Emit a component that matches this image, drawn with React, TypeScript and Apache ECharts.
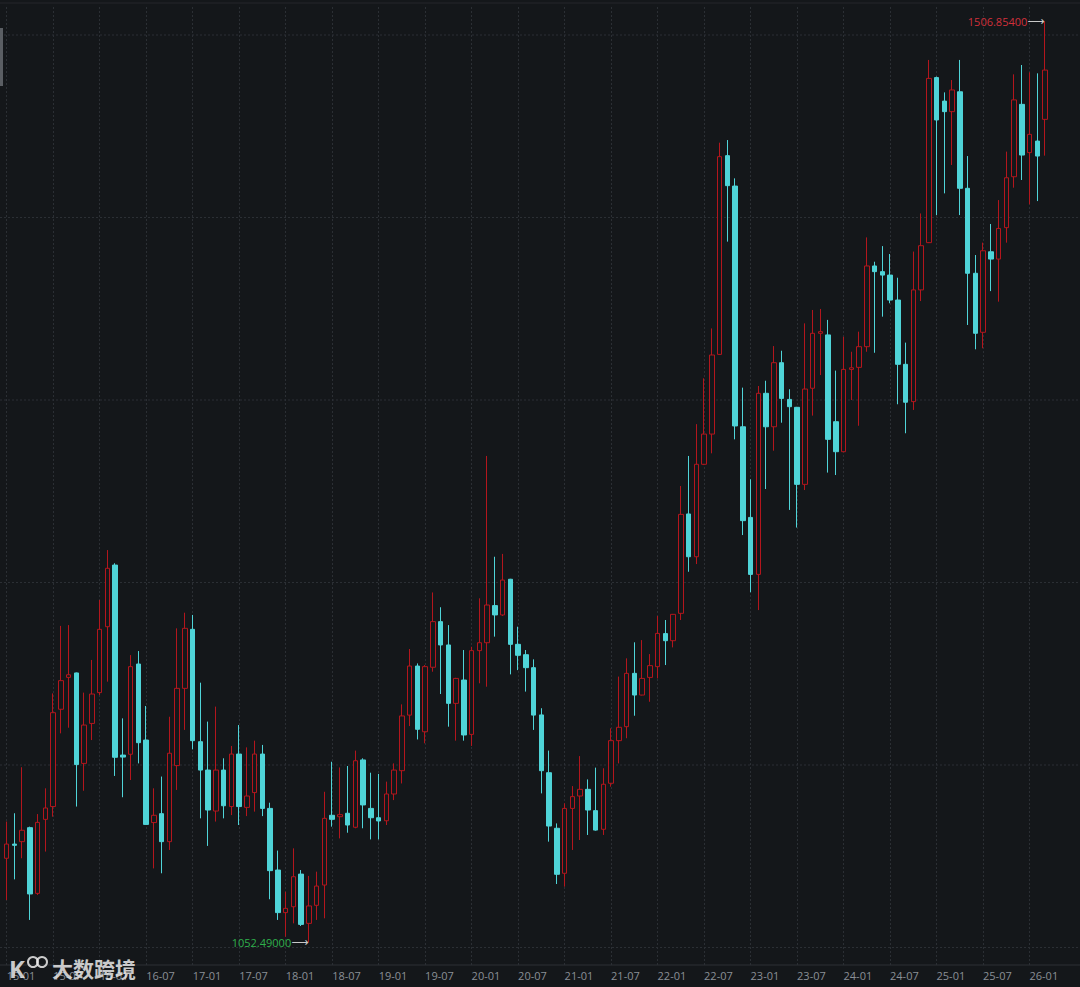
import React, { useEffect, useRef } from 'react';
import * as echarts from 'echarts';

const categories = [
  '15-01','15-02','15-03','15-04','15-05','15-06','15-07','15-08','15-09','15-10','15-11','15-12',
  '16-01','16-02','16-03','16-04','16-05','16-06','16-07','16-08','16-09','16-10','16-11','16-12',
  '17-01','17-02','17-03','17-04','17-05','17-06','17-07','17-08','17-09','17-10','17-11','17-12',
  '18-01','18-02','18-03','18-04','18-05','18-06','18-07','18-08','18-09','18-10','18-11','18-12',
  '19-01','19-02','19-03','19-04','19-05','19-06','19-07','19-08','19-09','19-10','19-11','19-12',
  '20-01','20-02','20-03','20-04','20-05','20-06','20-07','20-08','20-09','20-10','20-11','20-12',
  '21-01','21-02','21-03','21-04','21-05','21-06','21-07','21-08','21-09','21-10','21-11','21-12',
  '22-01','22-02','22-03','22-04','22-05','22-06','22-07','22-08','22-09','22-10','22-11','22-12',
  '23-01','23-02','23-03','23-04','23-05','23-06','23-07','23-08','23-09','23-10','23-11','23-12',
  '24-01','24-02','24-03','24-04','24-05','24-06','24-07','24-08','24-09','24-10','24-11','24-12',
  '25-01','25-02','25-03','25-04','25-05','25-06','25-07','25-08','25-09','25-10','25-11','25-12',
  '26-01','26-02','26-03'
];

const opens = [
  1094.0,1101.0,1102.2,1109.1,1076.7,1113.2,1119.5,1167.5,1183.2,1185.4,1140.8,1160.5,
  1175.7,1208.2,1238.6,1144.9,1145.3,1189.8,1152.3,1111.6,1116.0,1102.2,1139.7,1177.8,
  1206.9,1151.5,1137.5,1117.3,1137.5,1119.5,1145.4,1119.1,1126.4,1145.4,1118.6,1088.2,
  1067.2,1070.1,1086.2,1061.9,1070.8,1080.8,1115.2,1114.5,1116.2,1109.3,1142.5,1118.6,
  1114.0,1112.5,1125.7,1137.2,1164.6,1188.8,1156.4,1188.2,1210.7,1199.2,1170.4,1181.9,
  1155.1,1196.4,1200.3,1218.6,1214.0,1231.6,1199.5,1194.4,1188.0,1164.7,1136.2,1108.8,
  1086.6,1118.6,1124.7,1128.0,1117.5,1108.3,1131.0,1152.0,1158.9,1185.2,1174.5,1183.2,
  1188.5,1204.8,1201.3,1214.8,1263.8,1242.7,1288.3,1303.2,1342.5,1440.5,1425.5,1306.8,
  1262.1,1234.0,1323.3,1306.8,1338.4,1320.3,1316.4,1278.4,1325.8,1352.9,1352.1,1309.3,
  1294.5,1335.1,1336.1,1346.3,1386.1,1383.3,1381.6,1369.3,1337.6,1319.2,1374.3,1397.6,
  1479.0,1467.4,1462.2,1472.0,1424.4,1382.5,1353.4,1393.1,1389.5,1405.0,1430.1,1465.8,
  1442.0,1447.7,1458.4
];

const closes = [
  1101.0,1100.4,1107.8,1076.4,1111.7,1118.8,1165.8,1181.6,1184.5,1140.2,1159.7,1175.0,
  1206.9,1237.0,1143.8,1143.9,1188.5,1151.0,1110.7,1115.2,1102.2,1145.8,1177.8,1207.4,
  1152.0,1137.5,1117.8,1137.5,1119.9,1145.4,1119.5,1124.7,1145.4,1118.6,1087.9,1067.2,
  1069.3,1084.9,1061.4,1070.5,1080.3,1113.7,1113.2,1115.5,1110.4,1142.1,1120.3,1114.0,
  1112.4,1125.7,1137.5,1164.2,1188.8,1157.6,1188.5,1210.7,1199.2,1170.4,1182.7,1154.8,
  1196.4,1200.3,1218.9,1214.0,1231.2,1199.5,1194.1,1188.0,1164.6,1137.2,1109.9,1086.1,
  1118.6,1124.4,1128.0,1117.8,1107.9,1130.5,1152.0,1158.6,1185.2,1174.5,1182.7,1189.0,
  1204.9,1201.3,1214.3,1263.6,1242.7,1288.3,1303.2,1342.2,1440.0,1425.7,1307.2,1260.5,
  1234.0,1323.3,1306.8,1338.4,1320.8,1316.7,1278.4,1325.4,1352.9,1353.7,1300.6,1294.5,
  1335.1,1335.9,1346.3,1386.1,1383.3,1381.6,1369.3,1337.6,1318.9,1374.3,1396.1,1478.6,
  1458.1,1462.2,1472.9,1424.4,1382.5,1352.9,1393.6,1389.5,1404.6,1429.6,1468.0,1440.8,
  1451.0,1440.3,1482.7
];

const lows = [
  1073.4,1083.6,1094.0,1063.6,1075.9,1097.3,1114.5,1155.6,1158.4,1119.5,1127.3,1152.3,
  1174.5,1181.1,1134.6,1124.1,1132.6,1140.8,1110.5,1089.0,1086.6,1098.1,1127.7,1157.3,
  1147.7,1113.7,1100.1,1112.1,1113.7,1115.3,1110.4,1114.8,1117.0,1114.8,1073.8,1063.6,
  1055.3,1061.9,1060.6,1052.49,1063.6,1064.4,1109.6,1103.8,1106.6,1108.8,1108.8,1103.3,
  1103.3,1110.4,1122.7,1130.9,1159.2,1152.6,1150.7,1186.0,1175.0,1158.9,1152.0,1152.0,
  1149.4,1180.3,1178.6,1203.3,1213.5,1184.7,1186.8,1176.2,1157.3,1126.0,1102.2,1081.3,
  1080.0,1098.1,1103.0,1105.5,1107.6,1105.5,1129.3,1140.8,1153.2,1164.3,1174.3,1171.2,
  1182.7,1189.3,1198.0,1211.5,1235.3,1239.1,1287.9,1293.7,1342.3,1398.1,1300.6,1253.4,
  1225.2,1216.4,1276.1,1295.0,1308.8,1265.8,1257.1,1275.6,1312.3,1332.3,1284.2,1283.0,
  1294.3,1320.0,1307.3,1343.8,1343.3,1361.1,1367.7,1317.9,1303.6,1315.1,1368.8,1397.4,
  1411.2,1421.9,1435.9,1411.2,1357.0,1345.0,1345.5,1373.7,1368.5,1397.6,1424.7,1428.5,
  1416.5,1418.1,1440.5
];

const highs = [
  1112.1,1116.2,1138.9,1109.6,1115.8,1128.5,1175.3,1208.6,1209.0,1185.6,1175.7,1191.8,
  1221.4,1246.0,1239.5,1163.0,1194.2,1196.2,1169.1,1128.5,1134.3,1163.8,1207.4,1215.1,
  1214.0,1180.6,1161.4,1168.8,1143.3,1149.4,1159.7,1148.7,1152.0,1149.9,1121.4,1097.8,
  1077.5,1098.9,1088.2,1085.3,1087.4,1126.8,1141.6,1138.8,1139.5,1147.1,1143.3,1136.2,
  1135.6,1131.8,1140.8,1169.9,1197.2,1190.1,1189.3,1225.1,1217.8,1209.0,1183.0,1196.7,
  1198.3,1222.2,1292.4,1242.7,1244.1,1231.8,1208.2,1196.7,1192.1,1168.0,1147.1,1111.2,
  1121.1,1129.6,1144.4,1132.9,1138.7,1138.4,1158.1,1183.6,1192.6,1200.5,1201.6,1194.7,
  1213.5,1211.5,1214.5,1277.6,1292.4,1308.1,1330.7,1355.3,1446.9,1448.2,1429.3,1326.1,
  1280.9,1326.9,1329.5,1346.6,1344.3,1325.3,1316.6,1357.8,1364.4,1364.9,1359.5,1334.5,
  1351.2,1343.8,1353.7,1400.2,1388.2,1395.9,1392.0,1380.3,1348.3,1393.2,1412.0,1487.7,
  1479.5,1471.7,1477.8,1487.7,1440.3,1391.5,1397.6,1406.8,1418.6,1442.5,1480.6,1485.2,
  1481.6,1481.1,1506.854
];

const gridLevels = [1050, 1140, 1230, 1320, 1410, 1500];
const maxMark = { category: '26-03', value: 1506.854, text: '1506.85400' };
const minMark = { category: '18-04', value: 1052.49, text: '1052.49000' };

const BG = '#14171a';
const GRID = '#2b2f34';
const UP = '#b3161d';
const DOWN = '#4fd4d8';

export default function App() {
  const ref = useRef<HTMLDivElement>(null);

  useEffect(() => {
    if (!ref.current) return;
    const chart = echarts.init(ref.current, null, { renderer: 'svg' });
    const data = categories.map((_, i) => [opens[i], closes[i], lows[i], highs[i]]);

    chart.setOption({
      animation: false,
      backgroundColor: BG,
      grid: { left: 6.7, right: 35, top: 7, bottom: 22 },
      xAxis: {
        type: 'category',
        data: categories,
        boundaryGap: false,
        axisLine: { show: false },
        axisTick: { show: false },
        axisLabel: {
          interval: 5,
          align: 'left',
          color: '#8a8f96',
          fontSize: 11,
          margin: 5,
          fontFamily: 'Open Sans, Noto Sans, sans-serif',
        },
        splitLine: { show: true, interval: 5, lineStyle: { color: GRID, type: [2, 2], width: 1 } },
      },
      yAxis: {
        type: 'value',
        min: 1041.37,
        max: 1513.81,
        axisLine: { show: false },
        axisTick: { show: false },
        axisLabel: { show: false },
        splitLine: { show: false },
      },
      series: [
        {
          type: 'candlestick',
          data,
          barWidth: 5,
          clip: false,
          itemStyle: {
            color: BG,
            color0: DOWN,
            borderColor: UP,
            borderColor0: DOWN,
            borderWidth: 1,
          },
          markPoint: {
            silent: true,
            symbol: 'circle',
            symbolSize: 1,
            itemStyle: { color: 'rgba(0,0,0,0)' },
            data: [
              {
                coord: [maxMark.category, maxMark.value],
                label: {
                  show: true,
                  position: 'left',
                  distance: 0,
                  formatter: '{t|' + maxMark.text + '}{a|⟶}',
                  rich: {
                    t: { color: '#d0303a', fontSize: 11, fontFamily: 'Open Sans, sans-serif' },
                    a: { color: '#c8c8c8', fontSize: 12, fontFamily: 'DejaVu Sans' },
                  },
                },
              },
              {
                coord: [minMark.category, minMark.value],
                label: {
                  show: true,
                  position: 'left',
                  distance: 0,
                  formatter: '{t|' + minMark.text + '}{a|⟶}',
                  rich: {
                    t: { color: '#2fb04c', fontSize: 11, fontFamily: 'Open Sans, sans-serif' },
                    a: { color: '#c8c8c8', fontSize: 12, fontFamily: 'DejaVu Sans' },
                  },
                },
              },
            ],
          },
        },
      ],
    });

    const gridYs = gridLevels.map((v) => chart.convertToPixel({ yAxisIndex: 0 }, v) as number);
    chart.setOption({
      graphic: [
        ...gridYs.map((y) => ({
          type: 'line',
          silent: true,
          z: 0,
          shape: { x1: 0, y1: y, x2: 1080, y2: y },
          style: { stroke: GRID, lineWidth: 1, lineDash: [2, 2] },
        })),
        { type: 'line', silent: true, z: 0, shape: { x1: 0, y1: 965, x2: 1080, y2: 965 }, style: { stroke: '#2c3035', lineWidth: 1 } },
        { type: 'line', silent: true, z: 0, shape: { x1: 0, y1: 3, x2: 1080, y2: 3 }, style: { stroke: '#24272b', lineWidth: 1 } },
        { type: 'rect', silent: true, z: 5, shape: { x: 0, y: 28, width: 3, height: 58 }, style: { fill: '#5a5e63' } },
        {
          type: 'text', silent: true, z: 10, x: 9, y: 968,
          style: { text: 'K', fill: 'rgba(235,235,235,0.85)', fontSize: 24, fontWeight: 'bold', fontFamily: 'Noto Sans, sans-serif', verticalAlign: 'middle' },
        },
        { type: 'circle', silent: true, z: 10, shape: { cx: 33, cy: 962, r: 5 }, style: { fill: 'none', stroke: 'rgba(235,235,235,0.85)', lineWidth: 2 } },
        { type: 'circle', silent: true, z: 10, shape: { cx: 42, cy: 962, r: 5 }, style: { fill: 'none', stroke: 'rgba(235,235,235,0.85)', lineWidth: 2 } },
        {
          type: 'text', silent: true, z: 10, x: 52, y: 968,
          style: { text: '大数跨境', fill: 'rgba(235,235,235,0.85)', fontSize: 21, fontWeight: 'bold', fontFamily: 'Noto Sans CJK SC, sans-serif', verticalAlign: 'middle' },
        },
      ],
    });

    return () => chart.dispose();
  }, []);

  return (
    <div
      ref={ref}
      style={{ position: 'fixed', left: 0, top: 0, width: 1080, height: 987, background: BG }}
    />
  );
}
